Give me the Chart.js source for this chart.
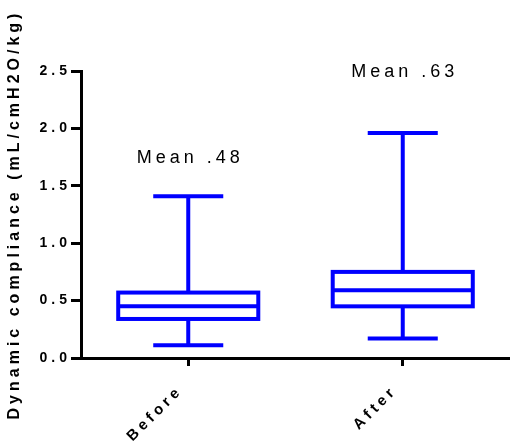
<!DOCTYPE html>
<html>
<head>
<meta charset="utf-8">
<script src="https://cdn.jsdelivr.net/npm/chart.js@4.4.1/dist/chart.umd.min.js"></script>
<style>
  html, body { margin: 0; padding: 0; background: #fff; }
  #wrap { width: 510px; height: 444px; }
</style>
</head>
<body>
<div id="wrap"><canvas id="chart" width="510" height="444"></canvas></div>
<script>
// box plot values
const groups = ['Before', 'After'];
const whiskerMin = [0.11, 0.17];
const quartile1 = [0.34, 0.45];
const medians = [0.45, 0.59];
const quartile3 = [0.57, 0.75];
const whiskerMax = [1.41, 1.96];
const meanLabels = ['Mean .48', 'Mean .63'];
const yTicks = [0, 0.5, 1.0, 1.5, 2.0, 2.5];

const blue = '#0000ff';
Chart.defaults.font.family = 'Arial, "Liberation Sans", sans-serif';
Chart.defaults.color = '#000';

// floating bars hold the box geometry, plugin strokes box, median, whiskers, mean text
const boxData = groups.map((g, i) => [quartile1[i], quartile3[i]]);

const whiskerPlugin = {
  id: 'whiskers',
  beforeDraw(chart) {
    chart.ctx.letterSpacing = '4px';
  },
  afterDatasetsDraw(chart, args, opts) {
    const ctx = chart.ctx;
    const y = chart.scales.y;
    const meta = chart.getDatasetMeta(0);
    ctx.save();
    ctx.strokeStyle = blue;
    ctx.lineWidth = 4;
    ctx.lineCap = 'butt';
    ctx.lineJoin = 'miter';
    meta.data.forEach((bar, i) => {
      const x = bar.x;
      const half = bar.width / 2;
      const cap = bar.width / 4;
      const yMed = y.getPixelForValue(medians[i]);
      const yQ1 = y.getPixelForValue(quartile1[i]);
      const yQ3 = y.getPixelForValue(quartile3[i]);
      const yMin = y.getPixelForValue(whiskerMin[i]);
      const yMax = y.getPixelForValue(whiskerMax[i]);
      // box
      ctx.strokeRect(x - half, yQ3, half * 2, yQ1 - yQ3);
      ctx.beginPath();
      // median
      ctx.moveTo(x - half, yMed);
      ctx.lineTo(x + half, yMed);
      // whiskers
      ctx.moveTo(x, yQ3);
      ctx.lineTo(x, yMax);
      ctx.moveTo(x - cap, yMax);
      ctx.lineTo(x + cap, yMax);
      ctx.moveTo(x, yQ1);
      ctx.lineTo(x, yMin);
      ctx.moveTo(x - cap, yMin);
      ctx.lineTo(x + cap, yMin);
      ctx.stroke();

      // mean label above the whisker
      ctx.fillStyle = '#000';
      ctx.font = '18px Arial, "Liberation Sans", sans-serif';
      ctx.letterSpacing = '4px';
      ctx.textAlign = 'center';
      ctx.textBaseline = 'alphabetic';
      ctx.fillText(meanLabels[i], x + 2, yMax - opts.gap[i]);
    });
    ctx.restore();
  }
};

const chart = new Chart(document.getElementById('chart'), {
  type: 'bar',
  data: {
    labels: groups,
    datasets: [{
      data: boxData,
      backgroundColor: 'rgba(0,0,0,0)',
      borderWidth: 0,
      barPercentage: 1,
      categoryPercentage: 0.653
    }]
  },
  options: {
    responsive: false,
    animation: false,
    layout: { padding: { top: 71, right: 0, left: 0, bottom: 0 } },
    plugins: {
      legend: { display: false },
      tooltip: { enabled: false },
      whiskers: { gap: [33, 56] }
    },
    scales: {
      x: {
        grid: { offset: false, drawOnChartArea: false, drawTicks: true, tickLength: 8, color: '#000', lineWidth: 3 },
        border: { display: true, color: '#000', width: 3 },
        ticks: {
          minRotation: 45,
          maxRotation: 45,
          padding: 16,
          labelOffset: -8,
          font: { size: 15, weight: 'bold' }
        },
        afterFit(scale) {
          scale.height = 86;
          scale.paddingLeft = 0;
          scale.paddingRight = 0;
        }
      },
      y: {
        min: 0,
        max: 2.5,
        afterBuildTicks(scale) {
          scale.ticks = yTicks.map(v => ({ value: v }));
        },
        grid: { drawOnChartArea: false, drawTicks: true, tickLength: 10, color: '#000', lineWidth: 3 },
        border: { display: true, color: '#000', width: 3 },
        ticks: {
          padding: 0,
          font: { size: 14, weight: 'bold' },
          callback: (v) => v.toFixed(1)
        },
        title: {
          display: true,
          text: 'Dynamic compliance (mL/cmH2O/kg)',
          font: { size: 16, weight: 'bold' },
          padding: { top: 5, bottom: 0 }
        },
        afterFit(scale) {
          scale.width = 81;
          scale.paddingTop = 0;
          scale.paddingBottom = 0;
        }
      }
    }
  },
  plugins: [whiskerPlugin]
});
</script>
</body>
</html>
